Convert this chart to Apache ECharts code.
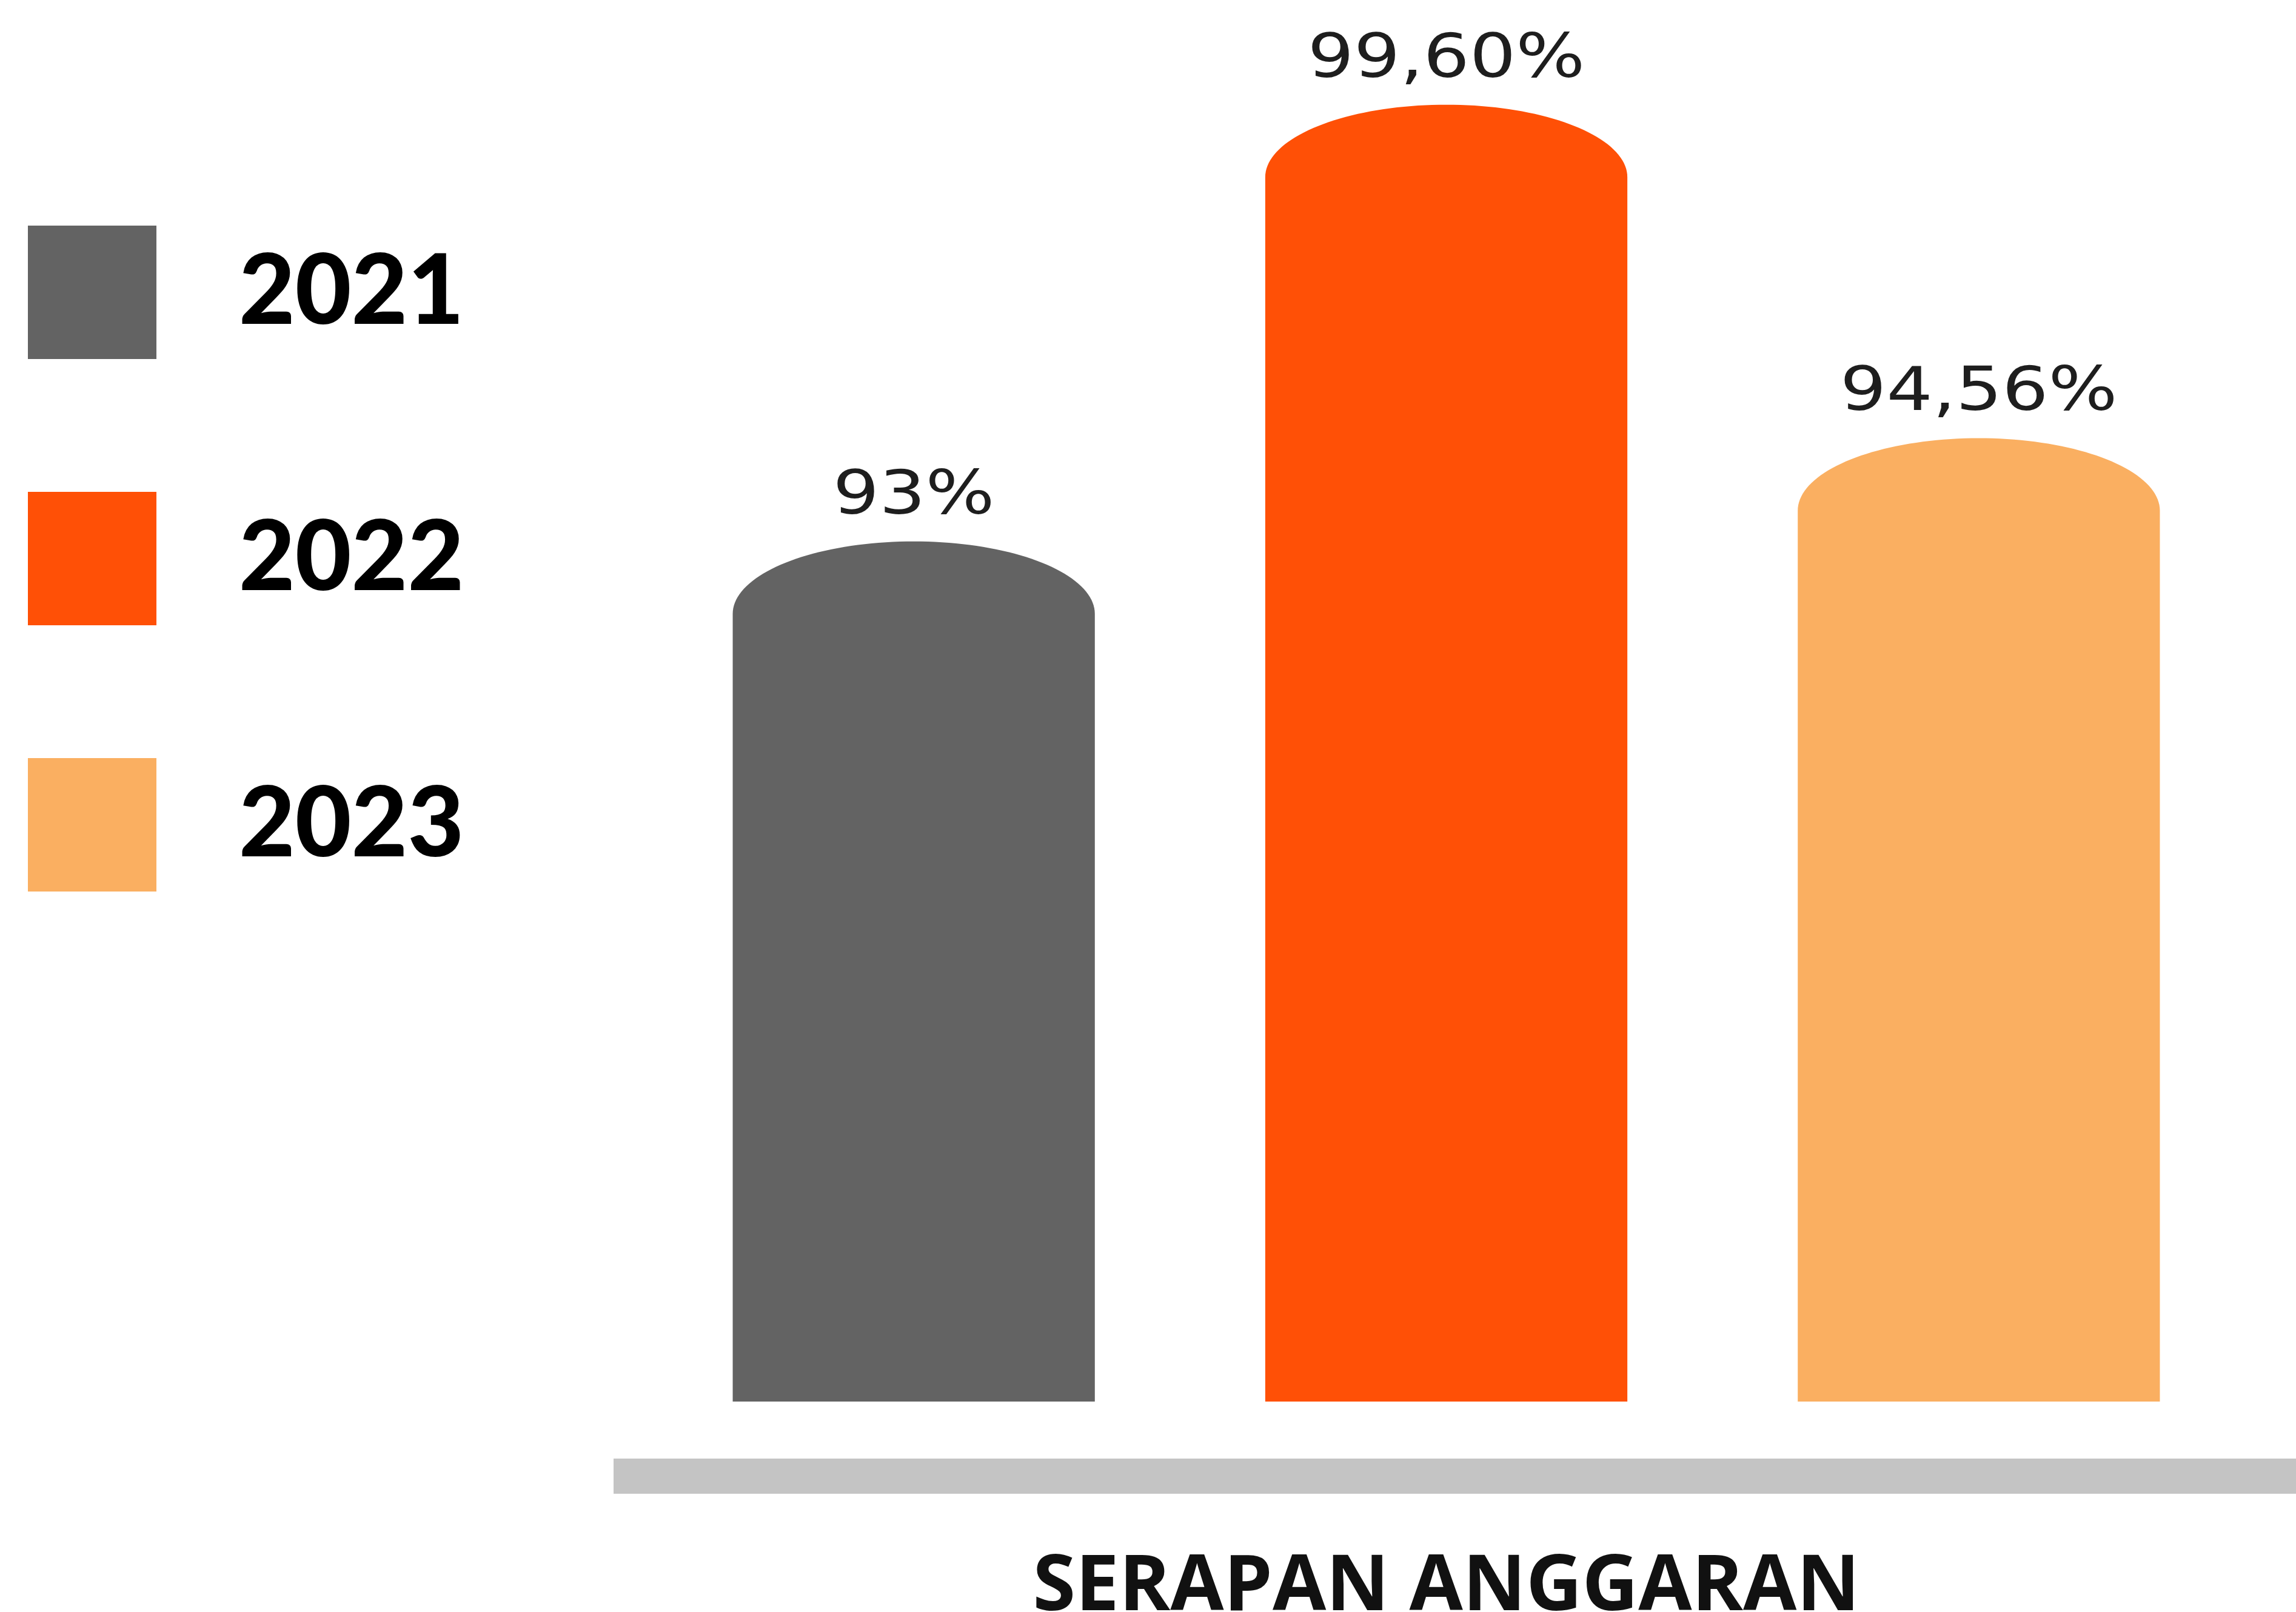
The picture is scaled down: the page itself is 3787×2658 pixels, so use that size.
<!DOCTYPE html>
<html><head><meta charset="utf-8">
<script src="https://cdn.jsdelivr.net/npm/echarts@6/dist/echarts.min.js"></script>
<style>html,body{margin:0;padding:0;background:#fff}#c{width:3787px;height:2658px}</style>
</head><body><div id="c"></div>
<script>
var years = ['2021', '2022', '2023'];
var values = [93, 99.6, 94.56];
var colors = ['#636363', '#FF5006', '#FAAF61'];
var axisTitle = 'SERAPAN ANGGARAN';
var Y_MIN = 80, Y_MAX = 100;

function fmt(v) {
  return (Number.isInteger(v) ? String(v) : v.toFixed(2).replace('.', ',')) + '%';
}

function renderItem(params, api) {
  var ci = api.value(0), v = api.value(1);
  var top = api.coord([ci, v]);
  var base = api.coord([ci, Y_MIN]);
  var w = api.size([1, 0])[0] * 0.68;
  var rx = w / 2, ry = w * 0.2;
  var cx = top[0], ty = top[1], by = base[1];
  var pts = [[cx - rx, by]];
  for (var i = 0; i <= 80; i++) {
    var a = Math.PI - Math.PI * i / 80;
    pts.push([cx + rx * Math.cos(a), ty + ry - ry * Math.sin(a)]);
  }
  pts.push([cx + rx, by]);
  return {
    type: 'group',
    children: [
      { type: 'polygon', shape: { points: pts }, style: { fill: api.visual('color') } },
      { type: 'text', x: cx, y: ty - 22, scaleX: 1.2,
        style: { text: fmt(v), x: 0, y: 0, align: 'center', verticalAlign: 'bottom',
        fontSize: 100, fontFamily: 'DejaVu Sans', fontWeight: 'normal', fill: '#1e1e1e' } }
    ]
  };
}

var chart = echarts.init(document.getElementById('c'), null, { renderer: 'canvas' });
chart.setOption({
  backgroundColor: '#ffffff',
  animation: false,
  grid: { left: 1068, right: 84, top: 129, bottom: 347, outerBoundsMode: 'none', containLabel: false },
  legend: {
    data: years, orient: 'vertical', left: 46, top: 372, padding: 0,
    itemWidth: 212, itemHeight: 220, itemGap: 219, icon: 'rect', selectedMode: false,
    textStyle: { fontFamily: 'Lato', fontWeight: 900, fontSize: 160, color: '#000', padding: [0, 0, 0, 131] }
  },
  graphic: [{
    type: 'rect', shape: { x: 1012, y: 2405, width: 2775, height: 58 }, style: { fill: '#c4c4c4' }, z: 0
  }],
  xAxis: {
    type: 'category', data: years,
    axisLine: { show: false }, axisTick: { show: false }, axisLabel: { show: false },
    name: axisTitle, nameLocation: 'middle', nameGap: 244,
    nameTextStyle: { fontFamily: 'Open Sans', fontWeight: 700, fontSize: 128, color: '#111' }
  },
  yAxis: { type: 'value', min: Y_MIN, max: Y_MAX, show: false, splitLine: { show: false } },
  series: years.map(function (y, i) {
    return {
      name: y, type: 'custom', renderItem: renderItem,
      itemStyle: { color: colors[i] },
      encode: { x: 0, y: 1 },
      data: [[i, values[i]]]
    };
  })
});
</script>
</body></html>
